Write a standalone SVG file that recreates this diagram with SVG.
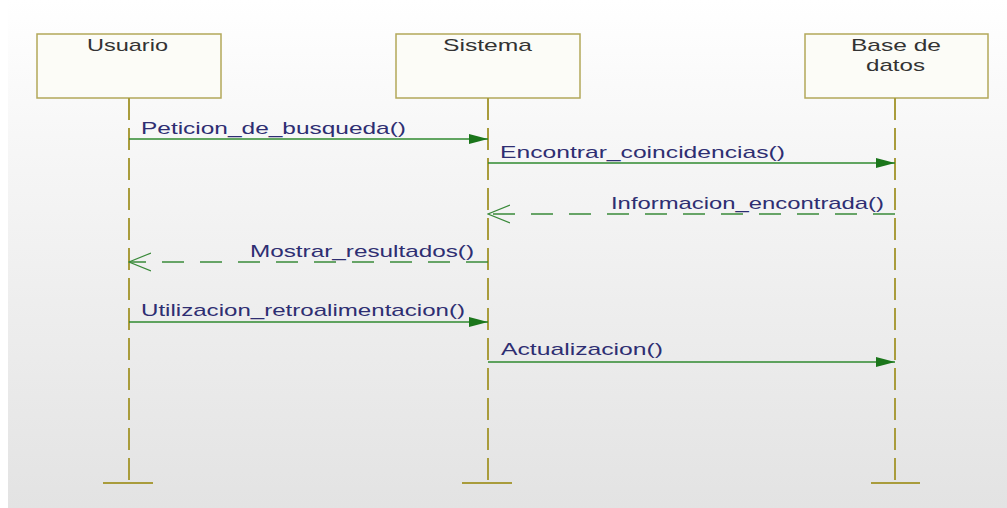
<svg xmlns="http://www.w3.org/2000/svg" width="1007" height="508" viewBox="0 0 1007 508">
<defs>
<linearGradient id="bg" x1="0" y1="0" x2="0" y2="1">
<stop offset="0" stop-color="#ffffff"/>
<stop offset="0.3" stop-color="#f6f6f6"/>
<stop offset="1" stop-color="#e3e3e3"/>
</linearGradient>
<marker id="filled" viewBox="0 0 19 10" refX="19" refY="5" markerWidth="19" markerHeight="10" markerUnits="userSpaceOnUse" orient="auto">
<path d="M0,0 L19,5 L0,10 Z" fill="#1b761b"/>
</marker>
<marker id="open" viewBox="0 0 23 20" refX="22" refY="10" markerWidth="23" markerHeight="20" markerUnits="userSpaceOnUse" orient="auto">
<path d="M0,1 L22,10 L0,19" fill="none" stroke="#3a8a3a" stroke-width="1.2"/>
</marker>
</defs>
<style>
.box{fill:#fcfcf7;stroke:#b3a85a;stroke-width:1.5}
.life{stroke:#a99c3c;stroke-width:2;stroke-dasharray:22 8;fill:none}
.bar{stroke:#a99c3c;stroke-width:2}
.name{font-family:"Liberation Sans",Arial,sans-serif;font-size:17px;fill:#333333}
.lbl{font-family:"Liberation Sans",Arial,sans-serif;font-size:17px;fill:#2e2e72}
.call{stroke:#2f8a2f;stroke-width:1.5;fill:none;marker-end:url(#filled)}
.ret{stroke:#3a8a3a;stroke-width:1.5;fill:none;stroke-dasharray:22 16;marker-end:url(#open)}
</style>
<rect x="0" y="0" width="1007" height="508" fill="#ffffff"/>
<rect x="8" y="0" width="999" height="508" fill="url(#bg)"/>

<g id="usuario">
<rect class="box" x="37" y="34" width="184" height="64"/>
<text class="name" x="87" y="51" textLength="81" lengthAdjust="spacingAndGlyphs">Usuario</text>
<line class="life" x1="129" y1="98" x2="129" y2="483"/>
<line class="bar" x1="103" y1="483" x2="153" y2="483"/>
</g>
<g id="sistema">
<rect class="box" x="396" y="34" width="184" height="64"/>
<text class="name" x="443" y="51" textLength="89" lengthAdjust="spacingAndGlyphs">Sistema</text>
<line class="life" x1="488" y1="98" x2="488" y2="483"/>
<line class="bar" x1="462" y1="483" x2="512" y2="483"/>
</g>
<g id="basededatos">
<rect class="box" x="805" y="34" width="183" height="64"/>
<text class="name" x="851" y="51" textLength="90" lengthAdjust="spacingAndGlyphs">Base de</text>
<text class="name" x="866" y="71" textLength="59" lengthAdjust="spacingAndGlyphs">datos</text>
<line class="life" x1="895" y1="98" x2="895" y2="483"/>
<line class="bar" x1="871" y1="483" x2="920" y2="483"/>
</g>

<g id="connectors">
<line class="call" x1="129" y1="139" x2="488" y2="139"/>
<text class="lbl" x="141" y="134" textLength="265" lengthAdjust="spacingAndGlyphs">Peticion_de_busqueda()</text>
<line class="call" x1="488" y1="163" x2="895" y2="163"/>
<text class="lbl" x="500" y="158" textLength="285" lengthAdjust="spacingAndGlyphs">Encontrar_coincidencias()</text>
<line class="ret" x1="895" y1="214" x2="488" y2="214"/>
<text class="lbl" x="611" y="209" textLength="273" lengthAdjust="spacingAndGlyphs">Informacion_encontrada()</text>
<line class="ret" x1="488" y1="262" x2="129" y2="262"/>
<text class="lbl" x="250" y="257" textLength="224" lengthAdjust="spacingAndGlyphs">Mostrar_resultados()</text>
<line class="call" x1="129" y1="322" x2="488" y2="322"/>
<text class="lbl" x="141" y="316" textLength="324" lengthAdjust="spacingAndGlyphs">Utilizacion_retroalimentacion()</text>
<line class="call" x1="488" y1="362" x2="895" y2="362"/>
<text class="lbl" x="501" y="355" textLength="162" lengthAdjust="spacingAndGlyphs">Actualizacion()</text>
</g>
</svg>
